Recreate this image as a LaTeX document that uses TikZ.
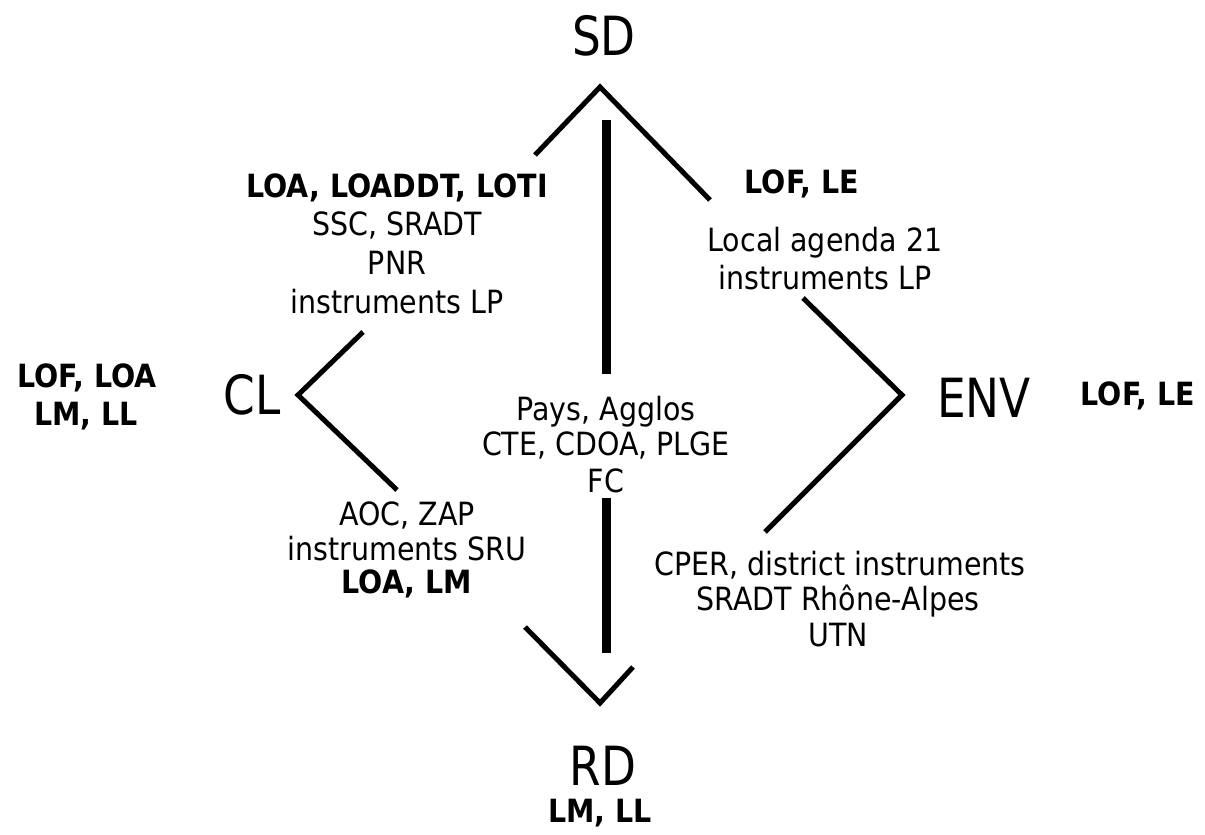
\documentclass[tikz,border=0pt]{standalone}
\usepackage{fontspec}
\setmainfont[FakeStretch=0.89]{DejaVu Sans}
\newfontfamily\bigfont[FakeStretch=0.84]{DejaVu Sans}
\begin{document}
\begin{tikzpicture}[x=1pt,y=-1pt,
  txt/.style={anchor=base,inner sep=0pt,font=\fontsize{32}{38}\selectfont},
  bld/.style={anchor=base,inner sep=0pt,font=\fontsize{32}{38}\selectfont\bfseries},
  big/.style={anchor=base,inner sep=0pt,font=\bigfont\fontsize{54}{60}\selectfont},
  chev/.style={line width=5pt,line join=miter},
  bar/.style={line width=9pt}]
\useasboundingbox (0,0) rectangle (1205,835);
% big labels
\node[big] (sd) at (604,55) {SD};
\node[big] (cl) at (252,414) {CL};
\node[big] (env) at (984,417) {ENV};
\node[big] (rd) at (603,785) {RD};
% chevrons
\coordinate (sdA) at (535,155); \coordinate (sdV) at (600,87); \coordinate (sdB) at (710,200);
\coordinate (clA) at (363,332); \coordinate (clV) at (298,395); \coordinate (clB) at (397,490);
\coordinate (rdA) at (525,627); \coordinate (rdV) at (600,703); \coordinate (rdB) at (633,667);
\coordinate (enA) at (803,298); \coordinate (enV) at (902,395); \coordinate (enB) at (765,532);
\draw[chev] (sdA) -- (sdV) -- (sdB);
\draw[chev] (clA) -- (clV) -- (clB);
\draw[chev] (rdA) -- (rdV) -- (rdB);
\draw[chev] (enA) -- (enV) -- (enB);
% vertical bar
\coordinate (v1) at (606,120); \coordinate (v2) at (606,374);
\coordinate (v3) at (606,498); \coordinate (v4) at (606,653);
\draw[bar] (v1) -- (v2);
\draw[bar] (v3) -- (v4);
% SD-CL texts
\node[bld] (t1) at (397,197) {LOA, LOADDT, LOTI};
\node[txt] (t2) at (397,235) {SSC, SRADT};
\node[txt] (t3) at (397,274) {PNR};
\node[txt] (t4) at (397,313) {instruments LP};
% SD-ENV texts
\node[bld] (u1) at (802,193) {LOF, LE};
\node[txt] (u2) at (825,251) {Local agenda 21};
\node[txt] (u3) at (825,289) {instruments LP};
% CL side
\node[bld] (c1) at (87,387) {LOF, LOA};
\node[bld] (c2) at (86,425) {LM, LL};
% ENV side
\node[bld] (e1) at (1138,405) {LOF, LE};
% centre
\node[txt] (m1) at (606,420) {Pays, Agglos};
\node[txt] (m2) at (606,455) {CTE, CDOA, PLGE};
\node[txt] (m3) at (606,492) {FC};
% CL-RD
\node[txt] (w1) at (407,525) {AOC, ZAP};
\node[txt] (w2) at (407,560) {instruments SRU};
\node[bld] (w3) at (407,593) {LOA, LM};
% ENV-RD
\node[txt] (r1) at (840,575) {CPER, district instruments};
\node[txt] (r2) at (838,610) {SRADT Rhône-Alpes};
\node[txt] (r3) at (838,646) {UTN};
% RD
\node[bld] (b1) at (600,822) {LM, LL};
\end{tikzpicture}
\end{document}
